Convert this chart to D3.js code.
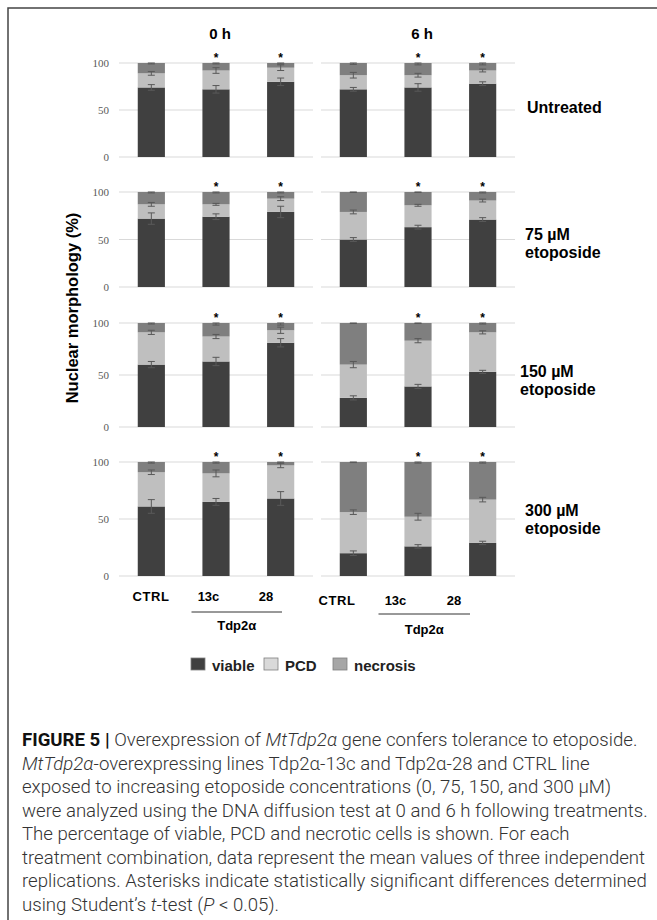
<!DOCTYPE html>
<html>
<head>
<meta charset="utf-8">
<script src="https://cdn.jsdelivr.net/npm/d3@7"></script>
<style>
  body { margin: 0; background: #fff; }
  svg { display: block; }
</style>
</head>
<body>
<svg id="fig" width="657" height="920"></svg>
<script>
// categories
var hours = ["0 h", "6 h"];
var lines = ["CTRL", "13c", "28"];
var treatments = [["Untreated"], ["75 µM", "etoposide"], ["150 µM", "etoposide"], ["300 µM", "etoposide"]];
var series = ["viable", "PCD", "necrosis"];
var yTicks = [0, 50, 100];

// values per treatment row: 0 h CTRL, 13c, 28, then 6 h CTRL, 13c, 28
var viable = [
    [74, 72, 80, 72, 74, 78],
    [72, 74, 79, 50, 63, 71],
    [60, 63, 81, 28, 39, 53],
    [61, 65, 68, 20, 26, 29]
];
var pcd = [
    [15, 20, 15, 15, 13, 14],
    [15, 13, 14, 29, 23, 20],
    [31, 24, 12, 32, 44, 38],
    [30, 25, 29, 36, 26, 38]
];
var necrosis = [
    [11, 8, 5, 13, 13, 8],
    [13, 13, 7, 21, 14, 9],
    [9, 13, 7, 40, 17, 9],
    [9, 10, 3, 44, 48, 33]
];
// error bars (same layout)
var errViable = [
    [3, 4, 4, 2, 4, 2],
    [6, 3, 6, 2, 2, 2],
    [3, 4, 4, 2, 2, 1.5],
    [6, 3, 6, 2, 1.5, 1.5]
];
var errPcd = [
    [2, 3, 3, 3, 2, 1.5],
    [2, 1, 2, 2, 1, 1.5],
    [2, 2, 3, 3, 2, 1.5],
    [2, 3, 2, 2, 3, 2]
];
var errNecrosis = [
    [1, 1, 1, 1.5, 2, 2],
    [1, 1, 1, 0.5, 0.5, 1],
    [1, 2, 2, 0.5, 0.5, 1],
    [1, 1, 1, 0.5, 1, 1]
];
// asterisk flags per line
var signif = [false, true, true];

var caption = [
    [["FIGURE 5 | ", "b"], ["Overexpression of ", ""], ["MtTdp2α", "i"], [" gene confers tolerance to etoposide.", ""]],
    [["MtTdp2α", "i"], ["-overexpressing lines Tdp2α-13c and Tdp2α-28 and CTRL line", ""]],
    [["exposed to increasing etoposide concentrations (0, 75, 150, and 300 μM)", ""]],
    [["were analyzed using the DNA diffusion test at 0 and 6 h following treatments.", ""]],
    [["The percentage of viable, PCD and necrotic cells is shown. For each", ""]],
    [["treatment combination, data represent the mean values of three independent", ""]],
    [["replications. Asterisks indicate statistically significant differences determined", ""]],
    [["using Student’s ", ""], ["t", "i"], ["-test (", ""], ["P", "i"], [" < 0.05).", ""]]
];

// layout
var colors = { viable: "#404040", PCD: "#bfbfbf", necrosis: "#7f7f7f" };
var legendFill = { viable: "#404040", PCD: "#d9d9d9", necrosis: "#a6a6a6" };
var rowBox = [[63, 157], [192, 287], [323, 427], [462, 576]];
var panelX = [[119, 313], [321, 515]];
var labelX = [[151, 266], [337, 454]];
var sansB = "'Liberation Sans', Arial, sans-serif";

var svg = d3.select("#fig");

// frame
svg.append("rect")
    .attr("x", 8).attr("y", 8)
    .attr("width", 700).attr("height", 960)
    .attr("fill", "none")
    .attr("stroke", "#444")
    .attr("stroke-width", 1.5);

// hour titles
hours.forEach(function(h, hi) {
    var x = d3.scaleBand().domain(lines).range(panelX[hi]);
    svg.append("text")
        .attr("x", (panelX[hi][0] + panelX[hi][1]) / 2 + 4)
        .attr("y", 39)
        .attr("text-anchor", "middle")
        .style("font-family", sansB)
        .style("font-weight", "bold")
        .style("font-size", "15px")
        .text(h);
});

treatments.forEach(function(tr, ti) {
    var y = d3.scaleLinear().domain([0, 100]).range([rowBox[ti][1], rowBox[ti][0]]);

    // tick labels
    svg.append("g")
        .selectAll("text")
        .data(yTicks)
        .enter()
        .append("text")
        .attr("x", 109)
        .attr("y", function(d) { return y(d) + 4; })
        .attr("text-anchor", "end")
        .style("font-family", "'Liberation Serif', serif")
        .style("font-size", "11px")
        .style("fill", "#595959")
        .text(function(d) { return d; });

    hours.forEach(function(h, hi) {
        var x = d3.scaleBand().domain(lines).range(panelX[hi]).paddingInner(0.58).paddingOuter(0.29);
        var g = svg.append("g");

        // gridlines
        g.selectAll("line.grid")
            .data(yTicks)
            .enter()
            .append("line")
            .attr("class", "grid")
            .attr("x1", panelX[hi][0]).attr("x2", panelX[hi][1])
            .attr("y1", function(d) { return y(d); })
            .attr("y2", function(d) { return y(d); })
            .attr("stroke", "#d9d9d9")
            .attr("stroke-width", 1);

        // build stacked rows
        var rows = lines.map(function(l, li) {
            var k = hi * 3 + li;
            return {
                line: l,
                viable: viable[ti][k], PCD: pcd[ti][k], necrosis: necrosis[ti][k],
                err: { viable: errViable[ti][k], PCD: errPcd[ti][k], necrosis: errNecrosis[ti][k] },
                star: signif[li]
            };
        });
        var stack = d3.stack().keys(series)(rows);

        var layers = g.selectAll("g.layer")
            .data(stack)
            .enter()
            .append("g")
            .attr("class", "layer")
            .attr("fill", function(d) { return colors[d.key]; });

        layers.selectAll("rect")
            .data(function(d) { return d; })
            .enter()
            .append("rect")
            .attr("x", function(d) { return x(d.data.line); })
            .attr("width", x.bandwidth())
            .attr("y", function(d) { return y(d[1]); })
            .attr("height", function(d) { return y(d[0]) - y(d[1]); });

        // error bars at each segment top
        stack.forEach(function(layer) {
            layer.forEach(function(d) {
                var cx = x(d.data.line) + x.bandwidth() / 2;
                var e = d.data.err[layer.key];
                var top = Math.min(100, d[1] + e), bot = d[1] - e;
                g.append("line")
                    .attr("x1", cx).attr("x2", cx)
                    .attr("y1", y(top)).attr("y2", y(bot))
                    .attr("stroke", "#595959").attr("stroke-width", 1);
                [top, bot].forEach(function(v) {
                    g.append("line")
                        .attr("x1", cx - 3.5).attr("x2", cx + 3.5)
                        .attr("y1", y(v)).attr("y2", y(v))
                        .attr("stroke", "#595959").attr("stroke-width", 1);
                });
            });
        });

        // asterisks
        g.selectAll("text.star")
            .data(rows.filter(function(r) { return r.star; }))
            .enter()
            .append("text")
            .attr("class", "star")
            .attr("x", function(d) { return x(d.line) + x.bandwidth() / 2; })
            .attr("y", y(100) - 1)
            .attr("text-anchor", "middle")
            .style("font-family", sansB)
            .style("font-weight", "bold")
            .style("font-size", "12px")
            .text("*");
    });

    // treatment label on the right
    var base = [113, 240, 377, 516][ti];
    var lx = [527, 525, 520, 525][ti];
    svg.append("text")
        .attr("x", lx)
        .attr("y", base)
        .style("font-family", sansB)
        .style("font-weight", "bold")
        .style("font-size", "16px")
        .selectAll("tspan")
        .data(tr)
        .enter()
        .append("tspan")
        .attr("x", lx)
        .attr("dy", function(d, i) { return i ? 17.5 : 0; })
        .text(function(d) { return d; });
});

// y axis title
svg.append("text")
    .attr("transform", "translate(78,308) rotate(-90)")
    .attr("text-anchor", "middle")
    .style("font-family", sansB)
    .style("font-weight", "bold")
    .style("font-size", "16.5px")
    .text("Nuclear morphology (%)");

// line labels and Tdp2α group
hours.forEach(function(h, hi) {
    var px = d3.scalePoint().domain(lines).range(labelX[hi]);
    var dy = hi * 4;
    svg.append("g")
        .selectAll("text")
        .data(lines)
        .enter()
        .append("text")
        .attr("x", function(d) { return px(d); })
        .attr("y", 601 + dy)
        .attr("text-anchor", "middle")
        .style("font-family", sansB)
        .style("font-weight", "bold")
        .style("font-size", "13px")
        .style("letter-spacing", function(d) { return d === "CTRL" ? "0.6px" : "0px"; })
        .text(function(d) { return d; });

    var x1 = px("13c") - 17, x2 = px("28") + 16;
    svg.append("line")
        .attr("x1", x1).attr("x2", x2)
        .attr("y1", 612 + dy * 0.5).attr("y2", 612 + dy * 0.5)
        .attr("stroke", "#333").attr("stroke-width", 1);
    svg.append("text")
        .attr("x", (x1 + x2) / 2)
        .attr("y", 630 + dy)
        .attr("text-anchor", "middle")
        .style("font-family", sansB)
        .style("font-weight", "bold")
        .style("font-size", "13px")
        .text("Tdp2α");
});

// legend
var legX = [191, 264, 333];
var leg = svg.append("g")
    .selectAll("g")
    .data(series)
    .enter()
    .append("g")
    .attr("transform", function(d, i) { return "translate(" + legX[i] + ",658)"; });
leg.append("rect")
    .attr("width", 14).attr("height", 12)
    .attr("fill", function(d) { return legendFill[d]; })
    .attr("stroke", "#7f7f7f")
    .attr("stroke-width", 0.8);
leg.append("text")
    .attr("x", 21)
    .attr("y", 13)
    .style("font-family", sansB)
    .style("font-weight", "bold")
    .style("font-size", "15px")
    .style("fill", "#222")
    .text(function(d) { return d; });

// caption
var cap = svg.append("g");
caption.forEach(function(segs, li) {
    var t = cap.append("text")
        .attr("x", 22)
        .attr("y", 746 + li * 23.5)
        .style("font-family", "Roboto, 'Liberation Sans', sans-serif")
        .style("font-weight", 300)
        .style("font-size", "17px")
        .style("fill", "#333");
    segs.forEach(function(s) {
        t.append("tspan")
            .style("font-weight", s[1] === "b" ? 700 : 300)
            .style("font-style", s[1] === "i" ? "italic" : "normal")
            .style("fill", s[1] === "b" ? "#111" : "#333")
            .text(s[0]);
    });
});
// fit caption width to the reference column
var widest = d3.max(cap.selectAll("text").nodes(), function(n) { return n.getComputedTextLength(); });
var fs = 17 * 626 / widest;
cap.selectAll("text").style("font-size", fs + "px");
</script>
</body>
</html>
